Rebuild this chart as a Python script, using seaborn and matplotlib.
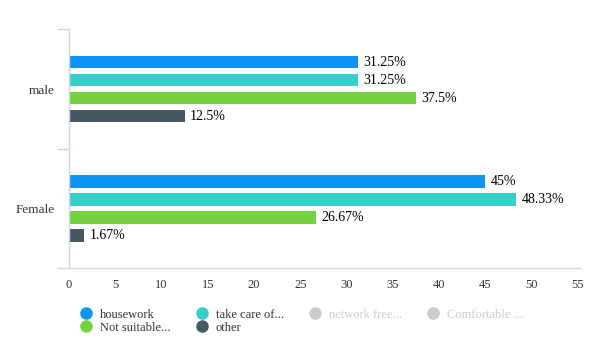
import matplotlib
matplotlib.use('Agg')
import pandas as pd
import seaborn as sns
import matplotlib.pyplot as plt
from matplotlib.lines import Line2D

# Chart data.
categories = ['male', 'Female']
series_names = ['housework', 'take care of...', 'Not suitable...', 'other']
housework = [31.25, 45]
take_care = [31.25, 48.33]
not_suitable = [37.5, 26.67]
other = [12.5, 1.67]
x_ticks = [0, 5, 10, 15, 20, 25, 30, 35, 40, 45, 50, 55]
legend_names = ['housework', 'take care of...', 'network free...', 'Comfortable ...',
                'Not suitable...', 'other']
legend_hidden = ['network free...', 'Comfortable ...']

colors = ['#0E95FC', '#36CEC9', '#75D23E', '#455963']
grey = '#CCCCCC'
axis_color = '#CCD6EB'

rows = []
for name, values in zip(series_names, [housework, take_care, not_suitable, other]):
    for cat, v in zip(categories, values):
        rows.append({'category': cat, 'series': name, 'value': v})
df = pd.DataFrame(rows)

sns.set_style('white')
plt.rcParams['font.family'] = ['Liberation Serif', 'DejaVu Serif']

fig = plt.figure(figsize=(6, 3.6), dpi=100)
ax = fig.add_axes([0.115, 0.2556, 0.8517, 0.6625])
sns.barplot(data=df, x='value', y='category', hue='series', order=categories,
            hue_order=series_names, palette=colors, orient='h', width=0.604,
            gap=0.3, legend=False, ax=ax, saturation=1, linewidth=0)

for container in ax.containers:
    labels = [f'{b.get_width():g}%' for b in container]
    ax.bar_label(container, labels=labels, padding=4, fontsize=10, color='#000000')

ax.set_xlim(0, 55.25)
ax.set_ylim(1.5, -0.5)
ax.set_xticks(x_ticks)
ax.set_xticklabels([str(t) for t in x_ticks])
ax.set_xlabel('')
ax.set_ylabel('')

# Category boundary ticks on the y axis, labels centered in bands.
ax.set_yticks([-0.5, 0.5, 1.5])
ax.set_yticklabels([])
ax.set_yticks([0, 1], minor=True)
ax.set_yticklabels(categories, minor=True)
ax.tick_params(axis='y', which='major', length=9, width=1, color=axis_color, direction='out', left=True)
ax.tick_params(axis='y', which='minor', length=0, pad=10, labelsize=9.5, labelcolor='#333333')
ax.tick_params(axis='x', length=0, pad=8, labelsize=9, labelcolor='#333333')

for side in ['top', 'right']:
    ax.spines[side].set_visible(False)
for side in ['left', 'bottom']:
    ax.spines[side].set_color(axis_color)
    ax.spines[side].set_linewidth(1)

# Legend, including the hidden series in grey.
legend_colors = {n: c for n, c in zip(series_names, colors)}
handles = []
for name in legend_names:
    c = grey if name in legend_hidden else legend_colors[name]
    handles.append(Line2D([0], [0], marker='o', linestyle='', markersize=8,
                          markerfacecolor=c, markeredgecolor=c, label=name))
# matplotlib fills legend columns top-to-bottom
order = [0, 4, 1, 5, 2, 3]
leg = fig.legend([handles[i] for i in order], [legend_names[i] for i in order],
                 loc='upper left', bbox_to_anchor=(0.133, 0.143), ncol=4, frameon=False,
                 fontsize=9, handlelength=1.0, handletextpad=0.6, columnspacing=2.0,
                 labelspacing=0.1, borderpad=0, borderaxespad=0)
for text in leg.get_texts():
    text.set_color(grey if text.get_text() in legend_hidden else '#333333')

plt.savefig('out.png', dpi=100)
